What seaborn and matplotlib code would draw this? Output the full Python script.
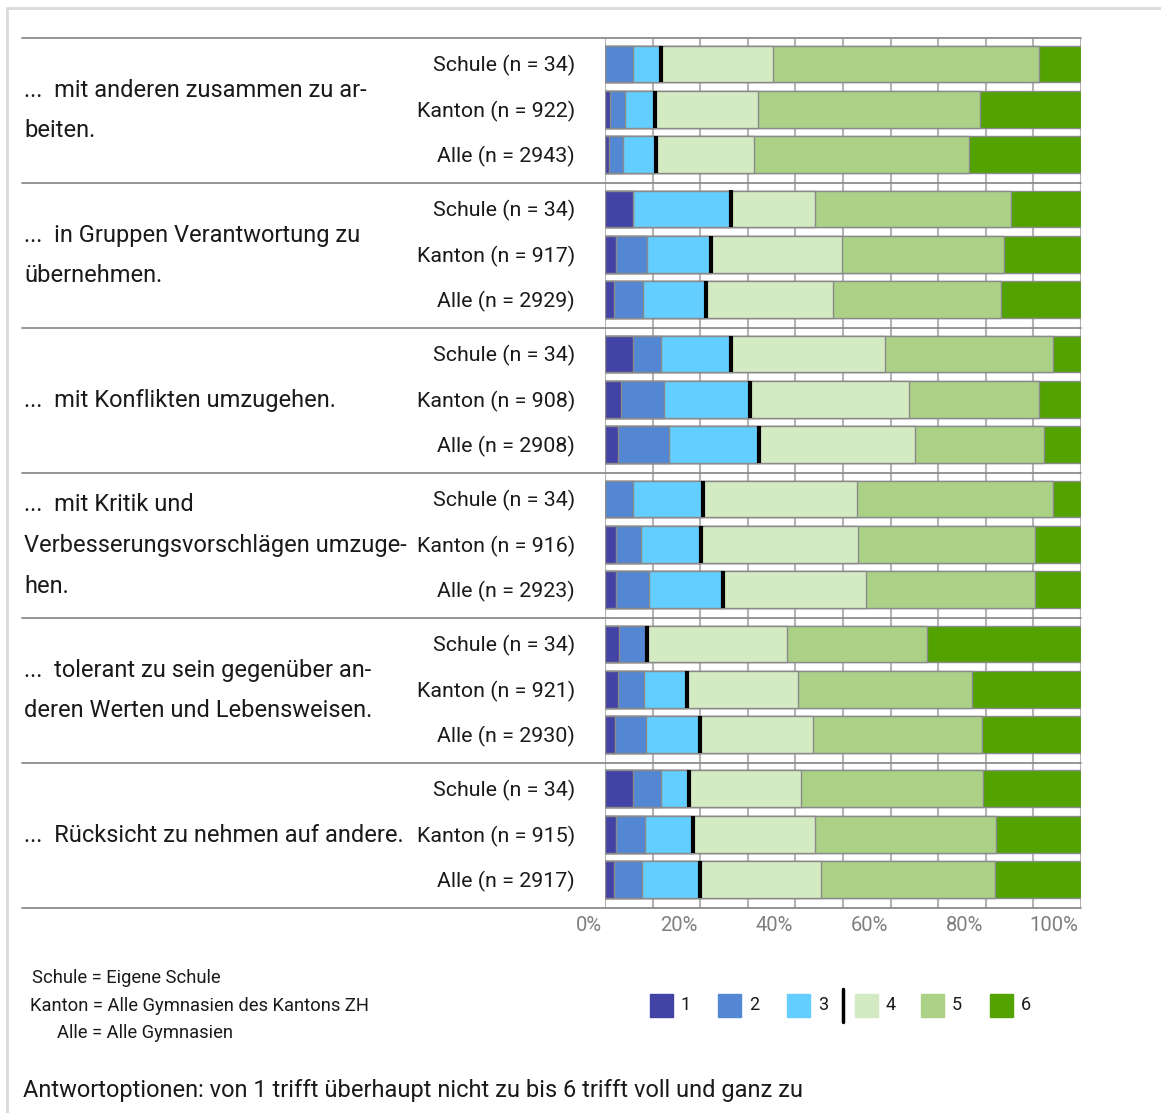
import numpy as np
import pandas as pd
import seaborn as sns
import matplotlib.pyplot as plt
import matplotlib.transforms as mtransforms
from matplotlib.lines import Line2D
from matplotlib.patches import Rectangle

# Items (group labels, already hyphenated like the original)
items = [
    "...  mit anderen zusammen zu ar-\nbeiten.",
    "...  in Gruppen Verantwortung zu\nübernehmen.",
    "...  mit Konflikten umzugehen.",
    "...  mit Kritik und\nVerbesserungsvorschlägen umzuge-\nhen.",
    "...  tolerant zu sein gegenüber an-\nderen Werten und Lebensweisen.",
    "...  Rücksicht zu nehmen auf andere.",
]
row_names = ["Schule", "Kanton", "Alle"]
n_values = [
    [34, 922, 2943],
    [34, 917, 2929],
    [34, 908, 2908],
    [34, 916, 2923],
    [34, 921, 2930],
    [34, 915, 2917],
]
answers = ["1", "2", "3", "4", "5", "6"]
colors = ["#4343A5", "#5387D3", "#63CEFF", "#D4EAC2", "#AAD186", "#52A300"]

# shares in % per answer option, rows: Schule/Kanton/Alle for each item
share_1 = [0.0, 1.0, 0.9,  5.9, 2.3, 1.9,  5.9, 3.4, 2.8,  0.0, 2.4, 2.3,  2.9, 2.7, 2.2,  5.9, 2.3, 1.9]
share_2 = [5.9, 3.3, 2.9,  0.0, 6.5, 6.0,  5.9, 9.0, 10.7, 5.9, 5.1, 6.9,  5.9, 5.4, 6.4,  5.9, 6.0, 5.9]
share_3 = [5.9, 6.3, 7.0,  20.6, 13.4, 13.3, 14.7, 18.0, 18.9, 14.7, 12.6, 15.6, 0.0, 9.2, 11.3, 5.9, 10.2, 12.1]
share_4 = [23.5, 21.5, 20.6, 17.6, 27.6, 26.8, 32.4, 33.4, 32.7, 32.4, 33.0, 30.1, 29.4, 23.3, 23.9, 23.5, 25.7, 25.5]
share_5 = [55.9, 46.7, 45.0, 41.2, 34.1, 35.2, 35.3, 27.3, 27.1, 41.2, 37.2, 35.4, 29.4, 36.6, 35.3, 38.2, 38.0, 36.5]
share_6 = [8.8, 21.2, 23.6, 14.7, 16.1, 16.8, 5.8, 8.9, 7.8,  5.8, 9.7, 9.7,  32.4, 22.8, 20.9, 20.6, 17.8, 18.1]

W, H = 1161, 1113
G = 3.19  # height of one item block in row units

sns.set_style("white")
plt.rcParams["font.family"] = ["Roboto", "DejaVu Sans"]

rows = []
for g in range(len(items)):
    for r in range(3):
        rows.append({"pos": g * G + 0.57 + r,
                     "label": f"{row_names[r]} (n = {n_values[g][r]})"})
df = pd.DataFrame(rows)
shares = np.column_stack([share_1, share_2, share_3, share_4, share_5, share_6])
cum = np.cumsum(shares, axis=1)
for k, a in enumerate(answers):
    df["c" + a] = cum[:, k]

fig = plt.figure(figsize=(W / 100, H / 100), dpi=100)
ax = fig.add_axes([605 / W, 1 - 908 / H, 476 / W, 870 / H])

# stacked bars: draw cumulative totals from the largest down
for k in reversed(range(6)):
    sns.barplot(data=df, x="c" + answers[k], y="pos", orient="y", native_scale=True,
                color=colors[k], saturation=1, width=0.81, errorbar=None,
                edgecolor="#8a8a8a", linewidth=1.0, ax=ax, zorder=2)

# black line between 3 and 4
ax.vlines(df["c3"], df["pos"] - 0.405, df["pos"] + 0.405, color="black", lw=3, zorder=3)

for v in range(0, 101, 10):
    ax.axvline(v, color="#b3b3b3", lw=1.5, zorder=0)

ax.set_xlim(0, 100)
ax.set_ylim(len(items) * G, 0)
ax.set_yticks([])
ax.set_xlabel("")
ax.set_ylabel("")
for s in ax.spines.values():
    s.set_visible(False)
ax.set_xticks(range(0, 101, 20))
ax.tick_params(axis="x", length=19, width=1.5, color="#a6a6a6", direction="out",
               labelbottom=False, pad=0)
for v in range(0, 101, 20):
    ax.annotate(f"{v}%", xy=(v, 0), xycoords=("data", "axes fraction"),
                xytext=(-2, -12.5), textcoords="offset points",
                ha="right", va="center", fontsize=14.5, color="#7f7f7f")

# separators between items
for g in range(len(items) + 1):
    ax.axhline(g * G, xmin=-(605 - 22) / 476, xmax=1, color="#8c8c8c", lw=1.3,
               clip_on=False, zorder=4)

trans = mtransforms.blended_transform_factory(ax.transAxes, ax.transData)
for _, row in df.iterrows():
    ax.text(-30 / 476, row["pos"] + 0.04, row["label"], transform=trans, ha="right",
            va="center", fontsize=15.4, color="#1a1a1a")
for g, item in enumerate(items):
    ax.text(-(605 - 24) / 476, g * G + G / 2, item, transform=trans, ha="left",
            va="center", fontsize=17, color="#1a1a1a", linespacing=1.98)

# explanation of row names
fig.text(32 / W, 1 - 978 / H, "Schule = Eigene Schule", fontsize=13.2, va="center", color="#1a1a1a")
fig.text(30 / W, 1 - 1006 / H, "Kanton = Alle Gymnasien des Kantons ZH", fontsize=13.2, va="center", color="#1a1a1a")
fig.text(57 / W, 1 - 1033 / H, "Alle = Alle Gymnasien", fontsize=13.2, va="center", color="#1a1a1a")
fig.text(23 / W, 1 - 1090 / H,
         "Antwortoptionen: von 1 trifft überhaupt nicht zu bis 6 trifft voll und ganz zu",
         fontsize=17, va="center", color="#1a1a1a")

# legend
leg_x = [650, 718, 787, 855, 921, 990]
for k, x in enumerate(leg_x):
    fig.add_artist(Rectangle((x / W, 1 - 1017 / H), 23 / W, 23 / H,
                             transform=fig.transFigure, color=colors[k]))
    fig.text((x + 31) / W, 1 - 1005 / H, answers[k], fontsize=13, va="center", color="#1a1a1a")
fig.add_artist(Line2D([843 / W, 843 / W], [1 - 989 / H, 1 - 1022 / H],
                      transform=fig.transFigure, color="black", lw=2.5))

# page frame
fig.add_artist(Line2D([7 / W, 1], [1 - 8 / H, 1 - 8 / H], transform=fig.transFigure,
                      color="#d9d9d9", lw=2))
fig.add_artist(Line2D([7 / W, 7 / W], [0, 1 - 8 / H], transform=fig.transFigure,
                      color="#d9d9d9", lw=2))

fig.savefig("out.png", dpi=100, facecolor="white")
